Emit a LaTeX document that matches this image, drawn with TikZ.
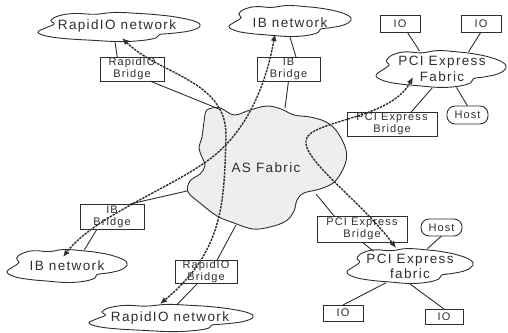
\documentclass[tikz,border=0pt]{standalone}
\usepackage{fontspec}
\setmainfont{Liberation Sans}[LetterSpace=10]
\usetikzlibrary{arrows.meta,shapes.geometric}

\definecolor{ink}{HTML}{2E2E2E}
\definecolor{blobfill}{HTML}{EEEEEE}

\newcommand\cloudfnt{\fontsize{13.5}{16}\selectfont}
\newcommand\bridgefnt{\fontsize{11}{12}\selectfont}
\newcommand\tagfnt{\fontsize{11}{12}\selectfont}

% outline of a flat, wavy cloud plus an invisible ellipse node used for anchors
% #1 name, #2 cx, #3 cy, #4 half width, #5 half height
\newcommand\drawcloud[5]{%
  \begin{scope}[shift={(#2,#3)},xscale=#4,yscale=#5]
    \draw[cloudline] plot[smooth cycle,tension=0.7] coordinates {
      (-1.00,0.35) (-0.90,0.05) (-0.80,-0.20) (-0.84,-0.45) (-0.74,-0.75)
      (-0.55,-0.90) (-0.30,-0.85) (-0.05,-0.97) (0.25,-0.90) (0.50,-0.80)
      (0.75,-0.62) (0.95,-0.35) (1.00,-0.05) (0.88,0.25) (0.66,0.42)
      (0.50,0.50) (0.46,0.72) (0.28,0.90) (0.00,0.97) (-0.35,0.88)
      (-0.65,0.78) (-0.88,0.62)};
  \end{scope}
  \node[cloudanchor,minimum width={2*#4pt},minimum height={2*#5pt}] (#1) at (#2,#3) {};
}

\begin{document}
\begin{tikzpicture}[x=1pt,y=-1pt,
  cloudline/.style={draw=ink,line width=0.9pt},
  cloudanchor/.style={ellipse,draw=none,inner sep=0pt,outer sep=0pt},
  cloudlabel/.style={font=\cloudfnt,text=ink,align=center,inner sep=0pt},
  conn/.style={draw=ink,line width=0.9pt},
  bridgebox/.style={rectangle,draw=ink,line width=0.9pt,inner sep=0pt,outer sep=0pt,
    align=center,text=ink,font=\bridgefnt},
  iobox/.style={rectangle,draw=ink,line width=0.9pt,inner sep=0pt,outer sep=0pt,
    minimum width=40pt,minimum height=17pt,text=ink,font=\tagfnt},
  hostbox/.style={rectangle,rounded corners=8pt,draw=ink,line width=0.9pt,inner sep=0pt,
    outer sep=0pt,minimum width=41pt,minimum height=18pt,text=ink,font=\tagfnt},
  flow/.style={draw=ink,line width=1.4pt,dash pattern=on 2.4pt off 1pt,
    {Latex[length=7pt,width=6pt]}-{Latex[length=7pt,width=6pt]}}]

\useasboundingbox (0,0) rectangle (508,332);

% ---- AS fabric core ----
\filldraw[fill=blobfill,draw=ink,line width=0.9pt] plot[smooth cycle,tension=0.6] coordinates {
  (207,110) (220,108) (234,115) (250,110) (267,106) (281,109) (294,115) (310,117)
  (324,121) (334,128) (341,138) (346,150) (346,161) (341,173) (333,183) (320,189)
  (304,193) (297,200) (294,211) (286,221) (270,227) (253,229) (234,223) (217,216)
  (200,203) (188,192) (190,181) (200,174) (205,166) (202,157) (199,148) (202,137)
  (204,122)};
\node[font=\cloudfnt,text=ink,inner sep=0pt] (as) at (266,168) {AS Fabric};
\coordinate (asNW) at (219,109);
\coordinate (asN)  at (285,108);
\coordinate (asW)  at (187,191);
\coordinate (asS)  at (236,225);
\coordinate (asSE) at (316,194);

% ---- clouds ----
\drawcloud{rnTop}{119}{27}{81}{15}
\node[cloudlabel] at (117,26) {RapidIO network};
\drawcloud{ibTop}{290}{21}{61}{16}
\node[cloudlabel] at (290,23) {IB network};
\drawcloud{pciTop}{441}{69}{65}{19}
\node[cloudlabel] at (442,69) {PCI Express\\Fabric};
\drawcloud{pciBot}{410}{266}{63}{18}
\node[cloudlabel,font=\fontsize{13.5}{15}\selectfont] at (410,266) {PCI Express\\fabric};
\drawcloud{ibBot}{67}{266}{60}{17}
\node[cloudlabel] at (67,266) {IB network};
\drawcloud{rnBot}{171}{318}{82}{14}
\node[cloudlabel] at (170,318) {RapidIO network};

% ---- bridges ----
\node[bridgebox,minimum width=64pt,minimum height=24pt] (rbT)  at (132,69)    {RapidIO\\Bridge};
\node[bridgebox,minimum width=63pt,minimum height=24pt] (ibbT) at (288.5,69)  {IB\\Bridge};
\node[bridgebox,minimum width=90pt,minimum height=24pt] (pbT)  at (392,124)   {PCI Express\\Bridge};
\node[bridgebox,minimum width=64pt,minimum height=25pt] (ibbB) at (112,216.5) {IB\\Bridge};
\node[bridgebox,minimum width=62pt,minimum height=23pt] (rbB)  at (206,271.5) {RapidIO\\Bridge};
\node[bridgebox,minimum width=90pt,minimum height=26pt] (pbB)  at (362,229)   {PCI Express\\Bridge};

% ---- end devices ----
\node[iobox] (io1) at (400,23.5) {IO};
\node[iobox] (io2) at (481,23.5) {IO};
\node[iobox,minimum height=16pt] (io3) at (343,313) {IO};
\node[iobox,minimum width=38pt,minimum height=15pt] (io4) at (444,316.5) {IO};
\node[hostbox] (hostT) at (467.5,115) {Host};
\node[hostbox,minimum height=17pt] (hostB) at (441.5,227.5) {Host};

% ---- links ----
\draw[conn] (rbT.141) -- (rnTop.-105);
\draw[conn] (rbT.-34) -- (asNW);
\draw[conn] (ibbT.58) -- (ibTop.south);
\draw[conn] (ibbT.south) -- (asN);
\draw[conn] (io1.-50) -- (pciTop.140);
\draw[conn] (io2.south) -- (pciTop.32);
\draw[conn] (pciTop.-115) -- (pbT.32);
\draw[conn] (pciTop.-50) -- (hostT.north);
\draw[conn] (asW) -- (ibbB.35);
\draw[conn] (ibbB.-140) -- (ibBot.43);
\draw[conn] (asS) -- (rbB.46);
\draw[conn] (rbB.-125) -- (rnBot.65);
\draw[conn] (asSE) -- (pbB.155);
\draw[conn] (pbB.south) -- (pciBot.158);
\draw[conn] (hostB.south) -- (pciBot.45);
\draw[conn] (pciBot.-145) -- (io3.north);
\draw[conn] (pciBot.south) -- (io4.north);

% ---- end-to-end paths across the fabric ----
\coordinate (f1a) at (122,38);
\coordinate (f1m) at (226,135);
\coordinate (f1b) at (160,304);
\draw[flow] (f1a) .. controls (160,75) and (226,80) .. (f1m)
                  .. controls (224,200) and (225,250) .. (f1b);

\coordinate (f2a) at (275,34);
\coordinate (f2m) at (215,155);
\coordinate (f2b) at (63,257);
\draw[flow] (f2a) .. controls (265,90) and (245,130) .. (f2m)
                  .. controls (179,185) and (95,215) .. (f2b);

\coordinate (f3a) at (413,77);
\coordinate (f3m) at (306,140);
\coordinate (f3b) at (396,248);
\draw[flow] (f3a) .. controls (390,120) and (310,120) .. (f3m)
                  .. controls (302,160) and (360,200) .. (f3b);
\end{tikzpicture}
\end{document}
